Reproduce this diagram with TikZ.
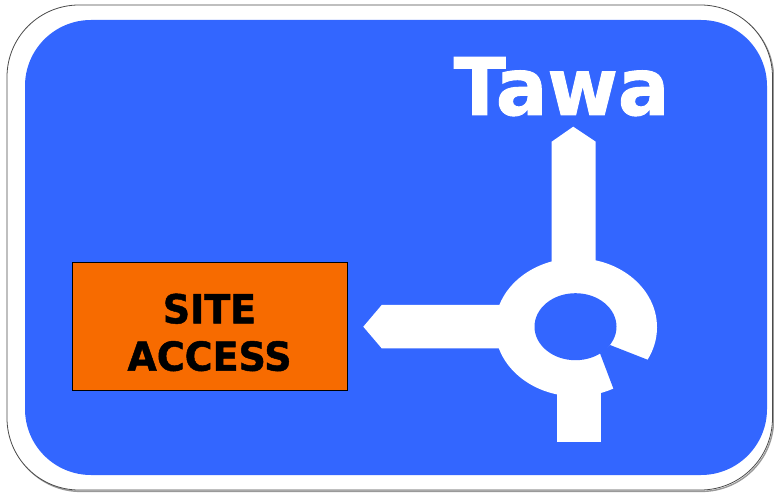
\documentclass[tikz,border=0pt]{standalone}
\usepackage{fontspec}
\setmainfont{DejaVu Sans}
\newfontfamily\signheavy[FakeBold=1.2]{DejaVu Sans Bold}
\definecolor{signblue}{HTML}{3366FF}
\definecolor{siteorange}{HTML}{F76B00}
\definecolor{rimline}{HTML}{4A4A4A}
\tikzset{
  road/.style={fill=white},
  hole/.style={fill=signblue},
  bigtext/.style={font=\fontsize{79.5}{80}\signheavy, text=white, anchor=base, inner sep=0pt, xscale=0.96},
  sitetext/.style={font=\fontsize{40}{44}\signheavy, text=black, anchor=base, inner sep=0pt, xscale=0.95}
}
\begin{document}
\begin{tikzpicture}[x=1pt,y=-1pt]
\useasboundingbox (0,0) rectangle (774,494);
\fill[white] (0,0) rectangle (774,494);
% outer white panel with thin rim and soft shadow
\draw[black!40, line width=1.4pt, rounded corners=72pt] (8.6,6.6) rectangle (773.6,491.4);
\draw[fill=white, draw=rimline, line width=0.8pt, rounded corners=72pt] (7,5) rectangle (772.5,490);
% blue field
\fill[signblue, rounded corners=66pt] (25,20) rectangle (767,475);
% roundabout
\fill[road] (576,327.3) ellipse [x radius=81pt, y radius=69pt];
\fill[road] (551.7,275) -- (551.7,141.7) -- (573.2,126.7) -- (595.7,141.7) -- (595.7,275) -- cycle;
\fill[road] (510,305) -- (381.7,305) -- (363.3,326.7) -- (381.7,348.3) -- (510,348.3) -- cycle;
\fill[road] (557,375) -- (600.7,375) -- (600.7,441.7) -- (557,441.7) -- cycle;
\fill[hole] (575.5,326.7) ellipse [x radius=41pt, y radius=33.5pt];
\fill[hole] (600,353.3) -- (610,345) -- (700,380.3) -- (700,460) -- (640.5,460) -- cycle;
% destination
\node[bigtext] (tawa) at (561.5,115) {Tawa};
% site access panel
\node[draw=black, line width=0.7pt, fill=siteorange, minimum width=275pt, minimum height=128pt, inner sep=0pt] (site) at (209.5,326) {};
\node[sitetext] (siteA) at (209.5,323.3) {SITE};
\node[sitetext] (siteB) at (209.5,370.7) {ACCESS};
\end{tikzpicture}
\end{document}
